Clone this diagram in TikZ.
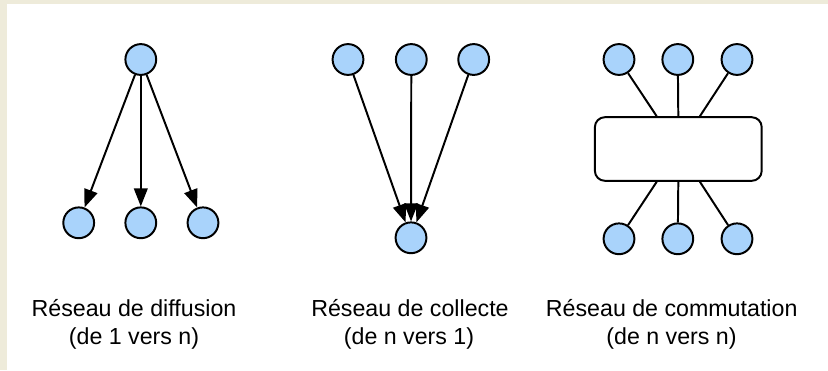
\documentclass[tikz,border=0pt]{standalone}
\usepackage{fontspec}
\setmainfont{Liberation Sans}
\usetikzlibrary{arrows.meta,positioning}
\definecolor{nodeblue}{HTML}{A9D3FB}
\definecolor{slidebg}{HTML}{EEEBDA}

\begin{document}
\begin{tikzpicture}[x=0.025cm, y=-0.025cm,
    stn/.style={circle, draw, line width=1.4pt, fill=nodeblue,
                minimum size=0.77cm, inner sep=0pt},
    swbox/.style={draw, line width=1.4pt, rounded corners=0.25cm, fill=white,
                minimum width=4.17cm, minimum height=1.59cm},
    lnk/.style={line width=1.4pt},
    arr/.style={line width=1.4pt, -{Triangle[length=0.45cm, width=0.34cm]}},
    lbl/.style={font=\fontsize{16.5}{20}\selectfont, anchor=base, inner sep=0pt}
  ]
    \useasboundingbox (0,0) rectangle (828,370);
    \fill[white] (0,0) rectangle (828,370);
    \fill[slidebg] (0,0) rectangle (7,370);
    \fill[slidebg] (0,0) rectangle (828,4);

    % diffusion (1 vers n)
    \node[stn] (d0) at (140.8,59.5)  {};
    \node[stn] (d1) at (78.7,222.8)  {};
    \node[stn] (d2) at (140.8,222.8) {};
    \node[stn] (d3) at (203,222.8)   {};
    \foreach \i in {1,2,3}
      \draw[arr] (d0) -- (d\i);
    \node[lbl] (dt1) at (134,316.7) {Réseau de diffusion};
    \node[lbl] (dt2) at (134,344.7) {(de 1 vers n)};

    % collecte (n vers 1)
    \node[stn] (k1) at (348,59.5)   {};
    \node[stn] (k2) at (411.3,59.5) {};
    \node[stn] (k3) at (473.7,59.5) {};
    \node[stn] (k0) at (411,237.8)  {};
    \foreach \i in {1,2,3}
      \draw[arr] (k\i) -- (k0);
    \node[lbl] (kt1) at (410,316.7) {Réseau de collecte};
    \node[lbl] (kt2) at (409,344.7) {(de n vers 1)};

    % commutation (n vers n)
    \node[swbox] (sw) at (678.3,149) {};
    \node[stn] (c1) at (619,59.5)    {};
    \node[stn] (c2) at (677.8,59.5)  {};
    \node[stn] (c3) at (737,59.5)    {};
    \node[stn] (c4) at (619,238.8)   {};
    \node[stn] (c5) at (677.8,238.8) {};
    \node[stn] (c6) at (737,238.8)   {};
    \draw[lnk] (c1) -- ([xshift=-0.54cm]sw.north);
    \draw[lnk] (c2) -- (sw.north);
    \draw[lnk] (c3) -- ([xshift=0.54cm]sw.north);
    \draw[lnk] (c4) -- ([xshift=-0.54cm]sw.south);
    \draw[lnk] (c5) -- (sw.south);
    \draw[lnk] (c6) -- ([xshift=0.54cm]sw.south);
    \node[lbl] (ct1) at (671.7,316.7) {Réseau de commutation};
    \node[lbl] (ct2) at (671.5,344.7) {(de n vers n)};
  \end{tikzpicture}
\end{document}
